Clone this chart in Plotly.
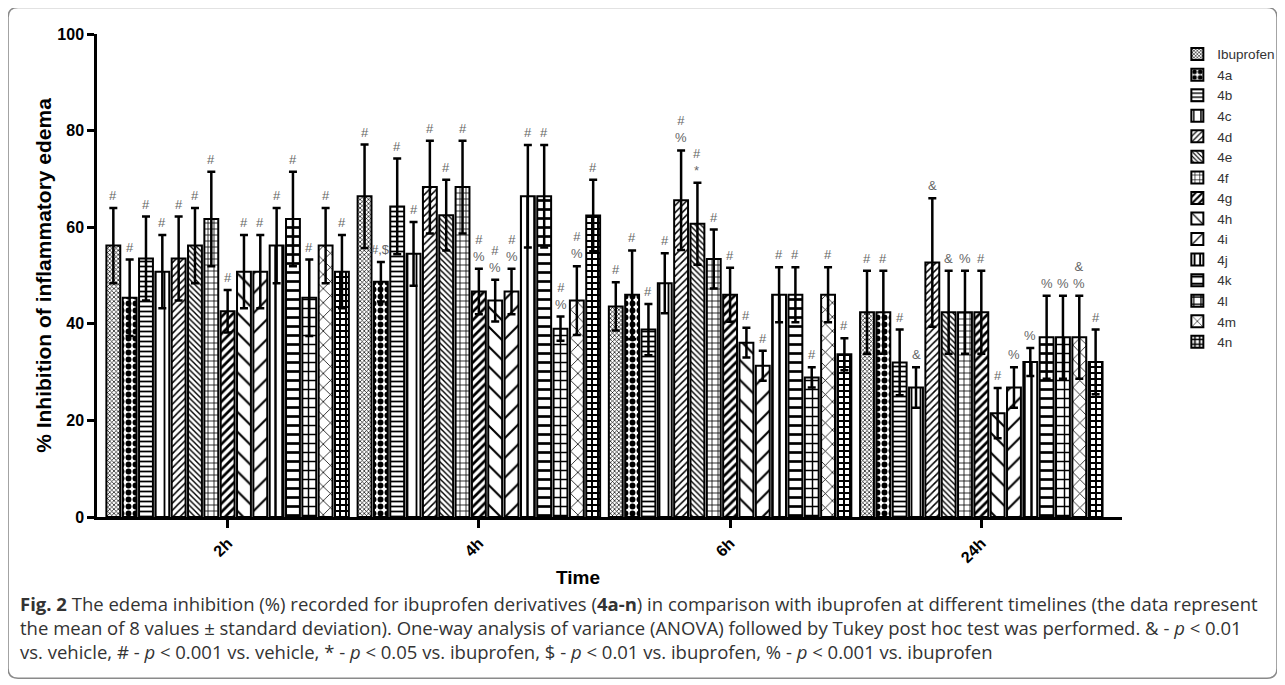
import plotly.graph_objects as go

time_points = ["2h", "4h", "6h", "24h"]
series_names = ["Ibuprofen", "4a", "4b", "4c", "4d", "4e", "4f", "4g",
                "4h", "4i", "4j", "4k", "4l", "4m", "4n"]

# mean % inhibition per series (order of series_names) at each time point
mean_2h = [56.2, 45.4, 53.5, 50.8, 53.5, 56.2, 61.7, 42.6, 50.8, 50.8, 56.2, 61.7, 45.4, 56.2, 50.8]
mean_4h = [66.4, 48.7, 64.3, 54.5, 68.3, 62.5, 68.3, 46.7, 44.8, 46.7, 66.4, 66.4, 39.0, 44.8, 62.4]
mean_6h = [43.6, 46.0, 38.8, 48.4, 65.6, 60.7, 53.4, 46.0, 36.1, 31.3, 46.0, 46.0, 28.9, 46.0, 33.7]
mean_24h = [42.4, 42.4, 32.0, 26.8, 52.7, 42.4, 42.4, 42.4, 21.5, 26.8, 32.1, 37.2, 37.2, 37.2, 32.1]

# standard deviations
sd_2h = [7.8, 7.9, 8.7, 7.6, 8.7, 7.8, 9.8, 4.4, 7.6, 7.6, 7.8, 9.8, 7.9, 7.8, 7.6]
sd_4h = [10.7, 4.1, 9.9, 6.6, 9.6, 7.3, 9.6, 4.7, 4.3, 4.7, 10.6, 10.6, 2.5, 7.1, 7.4]
sd_6h = [5.0, 9.2, 5.3, 6.2, 10.3, 8.5, 6.1, 5.6, 3.1, 3.1, 5.7, 5.7, 2.1, 5.7, 3.3]
sd_24h = [8.6, 8.6, 6.8, 4.2, 13.3, 8.6, 8.6, 8.6, 5.2, 4.2, 2.9, 8.6, 8.6, 8.6, 6.7]

# significance marks
sig_2h = ["#"] * 15
sig_4h = ["#", "#,$", "#", "#", "#", "#", "#", "#<br>%", "#<br>%", "#<br>%", "#", "#", "#<br>%", "#<br>%", "#"]
sig_6h = ["#", "#", "#", "#", "#<br>%", "#<br>*", "#", "#", "#", "#", "#", "#", "#", "#", "#"]
sig_24h = ["#", "#", "#", "&", "&", "&", "%", "#", "#", "%", "%", "%", "%", "&<br>%", "#"]

# fill patterns (shape, size, solidity)
pattern_shapes = ["x", ".", "-", "|", "/", "\\", "+", "/", "\\", "/", "|", "-", "+", "x", "+"]
pattern_sizes = [3, 7, 5, 9, 5, 4, 6, 6, 14, 14, 7, 9, 9, 10, 6]
pattern_solid = [0.4, 0.55, 0.35, 0.2, 0.3, 0.35, 0.25, 0.45, 0.15, 0.15, 0.35, 0.3, 0.3, 0.15, 0.55]

means = [mean_2h, mean_4h, mean_6h, mean_24h]
sds = [sd_2h, sd_4h, sd_6h, sd_24h]
sigs = [sig_2h, sig_4h, sig_6h, sig_24h]

BARGAP = 0.025
N = len(series_names)

fig = go.Figure()
for i, name in enumerate(series_names):
    fig.add_trace(go.Bar(
        name=name,
        x=time_points,
        y=[m[i] for m in means],
        error_y=dict(type="data", array=[s[i] for s in sds], symmetric=True,
                     color="black", thickness=2.5, width=4),
        marker=dict(color="white",
                    line=dict(color="black", width=2),
                    pattern=dict(shape=pattern_shapes[i], size=pattern_sizes[i],
                                 solidity=pattern_solid[i], fgcolor="black",
                                 bgcolor="white", fillmode="replace")),
    ))

annotations = []
for t in range(len(time_points)):
    for i in range(N):
        xc = t - (1 - BARGAP) / 2 + (i + 0.5) * (1 - BARGAP) / N
        annotations.append(dict(
            x=xc, y=means[t][i] + sds[t][i], xref="x", yref="y",
            text=sigs[t][i], showarrow=False, yanchor="bottom", yshift=3,
            font=dict(family="Liberation Sans", size=13, color="#666666")))

annotations.append(dict(
    x=0.469, y=-0.1244, xref="paper", yref="paper", xanchor="center", yanchor="middle",
    text="Time", showarrow=False,
    font=dict(family="Liberation Sans", size=19, weight="bold", color="black")))

cap_lines = [
    "<b>Fig. 2</b> The edema inhibition (%) recorded for ibuprofen derivatives (<b>4a-n</b>) in comparison with ibuprofen at different timelines (the data represent",
    "the mean of 8 values ± standard deviation). One-way analysis of variance (ANOVA) followed by Tukey post hoc test was performed. & - <i>p</i> &lt; 0.01",
    "vs. vehicle, # - <i>p</i> &lt; 0.001 vs. vehicle, * - <i>p</i> &lt; 0.05 vs. ibuprofen, $ - <i>p</i> &lt; 0.01 vs. ibuprofen, % - <i>p</i> &lt; 0.001 vs. ibuprofen",
]
cap_y = [-0.1782, -0.2280, -0.2777]
for line, yy in zip(cap_lines, cap_y):
    annotations.append(dict(
        x=-0.0771, y=yy, xref="paper", yref="paper", xanchor="left", yanchor="middle",
        text=line, showarrow=False, align="left",
        font=dict(family="Open Sans", size=18.5, color="#333333")))

x0, x1, y0, y1 = -0.0868, 1.1512, -0.3337, 1.0549
rx, ry = 0.0098, 0.0207
frame_path = (f"M {x0+rx},{y0} L {x1-rx},{y0} Q {x1},{y0} {x1},{y0+ry} "
              f"L {x1},{y1-ry} Q {x1},{y1} {x1-rx},{y1} L {x0+rx},{y1} "
              f"Q {x0},{y1} {x0},{y1-ry} L {x0},{y0+ry} Q {x0},{y0} {x0+rx},{y0} Z")

fig.update_layout(
    width=1277, height=677,
    margin=dict(l=89, r=163, t=26, b=168, autoexpand=False),
    paper_bgcolor="white", plot_bgcolor="white",
    barmode="group", bargap=BARGAP, bargroupgap=0.15,
    font=dict(family="Liberation Sans", color="black"),
    showlegend=True,
    legend=dict(x=1.054, y=0.99, xanchor="left", yanchor="top",
                font=dict(family="Liberation Sans", size=13.5, color="#333333"),
                tracegroupgap=0, bgcolor="rgba(0,0,0,0)"),
    annotations=annotations,
    shapes=[dict(type="path", path=frame_path, xref="paper", yref="paper",
                 line=dict(color="#8a8a8a", width=1.5), fillcolor="rgba(0,0,0,0)")],
    xaxis=dict(type="category", range=[-0.52, 3.56], showline=True, linecolor="black",
               linewidth=2.5, ticks="outside", ticklen=8, tickwidth=2.5, tickcolor="black",
               tickangle=-45, showgrid=False, zeroline=False,
               tickfont=dict(family="Liberation Sans", size=16, weight="bold")),
    yaxis=dict(range=[0, 100], dtick=20, showline=True, linecolor="black", linewidth=2.5,
               ticks="outside", ticklen=7, tickwidth=2.5, tickcolor="black",
               showgrid=False, zeroline=False,
               tickfont=dict(family="Liberation Sans", size=16, weight="bold"),
               title=dict(text="% Inhibition of inflammatory edema", standoff=0,
                          font=dict(family="Liberation Sans", size=21, weight="bold"))),
)

fig.write_html("out.html")
